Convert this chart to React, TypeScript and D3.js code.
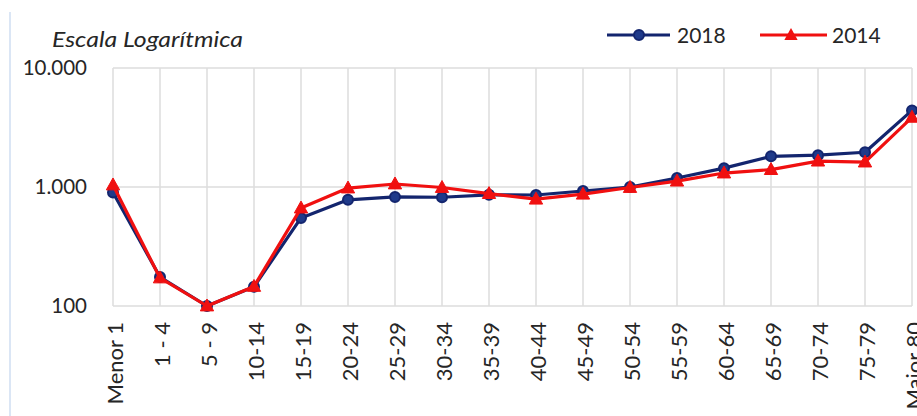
import React from "react";
import * as d3 from "d3";

// Age groups and the two series (log scale values)
const categories = [
  "Menor 1", "1 - 4", "5 - 9", "10-14", "15-19", "20-24", "25-29", "30-34", "35-39",
  "40-44", "45-49", "50-54", "55-59", "60-64", "65-69", "70-74", "75-79", "Maior 80",
];
const values2018 = [900, 175, 100, 145, 550, 780, 825, 820, 860, 857, 925, 1000, 1190, 1440, 1810, 1850, 1960, 4400];
const values2014 = [1040, 172, 100, 146, 665, 980, 1060, 990, 880, 790, 870, 990, 1120, 1310, 1400, 1650, 1620, 3850];
const yTicks = [100, 1000, 10000];
const yTickLabels = ["100", "1.000", "10.000"];
const seriesNames = ["2018", "2014"];

const W = 917;
const H = 416;
const NAVY = "#13256e";
const RED = "#f01010";
const GRID = "#dcdcdc";
const INK = "#262626";
const FONT = "Lato, 'Open Sans', sans-serif";

export default function App() {
  const x = d3.scalePoint<string>().domain(categories).range([113, 912]);
  const y = d3.scaleLog().domain([100, 10000]).range([306, 68]);
  const line = d3
    .line<number>()
    .x((_, i) => x(categories[i]) as number)
    .y((d) => y(d));

  const triangle = (cx: number, cy: number, s: number) =>
    `M${cx},${cy - s} L${cx + s * 0.95},${cy + s * 0.7} L${cx - s * 0.95},${cy + s * 0.7} Z`;

  return (
    <svg width={W} height={H} style={{ position: "absolute", left: 0, top: 0, background: "#fff" }}>
      {/* faint frame edge */}
      <line x1={10} x2={10} y1={12} y2={H} stroke="#dbe6f5" strokeWidth={2} />

      <text
        x={52}
        y={47}
        fontFamily={FONT}
        fontStyle="italic"
        fontSize={21}
        fill={INK}
        textLength={191}
        lengthAdjust="spacingAndGlyphs"
      >
        Escala Logarítmica
      </text>

      {/* grid */}
      {categories.map((c) => (
        <line key={c} x1={x(c)} x2={x(c)} y1={68} y2={306} stroke={GRID} strokeWidth={1.5} />
      ))}
      {yTicks.map((t, i) => (
        <g key={t}>
          <line x1={113} x2={912} y1={y(t)} y2={y(t)} stroke={GRID} strokeWidth={1.5} />
          <text x={87} y={y(t)} dy="0.36em" textAnchor="end" fontFamily={FONT} fontSize={20.5} fill={INK}>
            {yTickLabels[i]}
          </text>
        </g>
      ))}

      {/* x labels */}
      {categories.map((c) => (
        <text
          key={c}
          transform={`translate(${(x(c) as number) + 9.5},322) rotate(-90)`}
          textAnchor="end"
          fontFamily={FONT}
          fontSize={22}
          fill={INK}
        >
          {c}
        </text>
      ))}

      {/* 2018 series */}
      <path d={line(values2018) ?? ""} fill="none" stroke={NAVY} strokeWidth={3.2} strokeLinejoin="round" />
      {values2018.map((v, i) => (
        <circle key={i} cx={x(categories[i])} cy={y(v)} r={5} fill="#1f3a8a" stroke={NAVY} strokeWidth={2} />
      ))}

      {/* 2014 series */}
      <path d={line(values2014) ?? ""} fill="none" stroke={RED} strokeWidth={3.2} strokeLinejoin="round" />
      {values2014.map((v, i) => (
        <path key={i} d={triangle(x(categories[i]) as number, y(v), 7)} fill={RED} stroke={RED} strokeWidth={1} />
      ))}

      {/* legend */}
      <g>
        <line x1={607} x2={670} y1={35} y2={35} stroke={NAVY} strokeWidth={3.2} />
        <circle cx={639} cy={35} r={5} fill="#1f3a8a" stroke={NAVY} strokeWidth={2} />
        <text x={677} y={35} dy="0.36em" fontFamily={FONT} fontSize={21} fill={INK}>
          {seriesNames[0]}
        </text>
        <line x1={760} x2={827} y1={35} y2={35} stroke={RED} strokeWidth={3.2} />
        <path d={triangle(791, 35, 7)} fill={RED} />
        <text x={832} y={35} dy="0.36em" fontFamily={FONT} fontSize={21} fill={INK}>
          {seriesNames[1]}
        </text>
      </g>
    </svg>
  );
}
